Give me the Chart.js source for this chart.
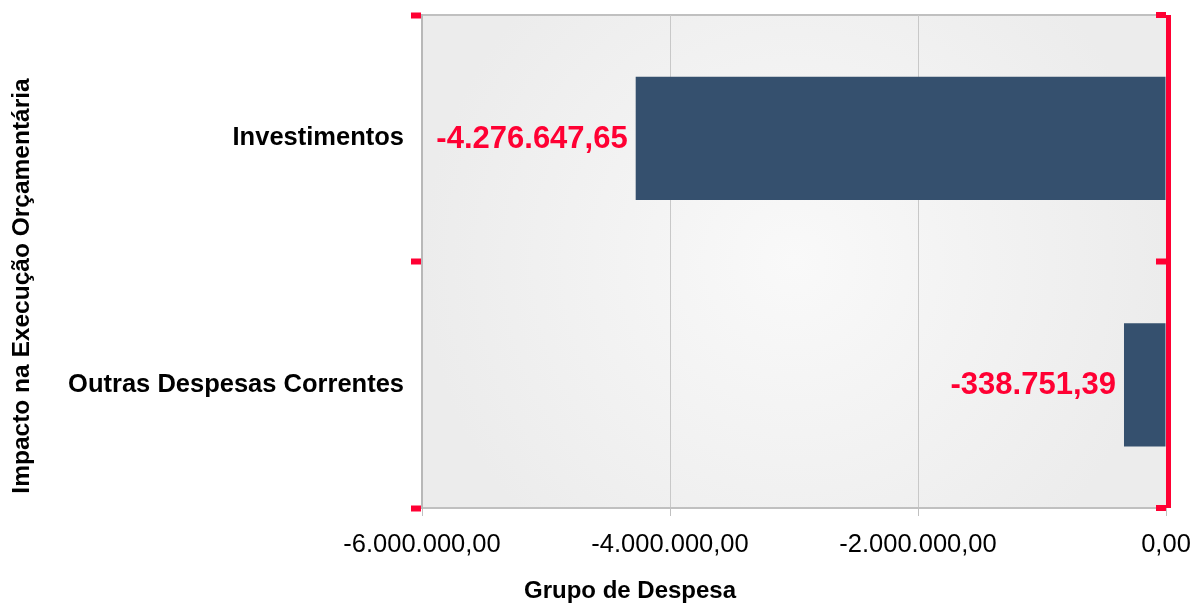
<!DOCTYPE html>
<html>
<head>
<meta charset="utf-8">
<script src="https://cdn.jsdelivr.net/npm/chart.js@4.4.0/dist/chart.umd.min.js"></script>
<style>
    html, body { margin: 0; padding: 0; background: #fff; }
    #wrap { width: 1194px; height: 605px; }
</style>
</head>
<body>
<div id="wrap"><canvas id="chart"></canvas></div>
<script>
const categories = ['Investimentos', 'Outras Despesas Correntes'];
const values = [-4276647.65, -338751.39];
const xTicks = [-6000000, -4000000, -2000000, 0];
const xTitle = 'Grupo de Despesa';
const yTitle = 'Impacto na Execução Orçamentária';

function formatBR(v) {
    let neg = v < 0;
    let parts = Math.abs(v).toFixed(2).split('.');
    let intPart = parts[0].replace(/\B(?=(\d{3})+(?!\d))/g, '.');
    return (neg ? '-' : '') + intPart + ',' + parts[1];
}

const FONT = '"Liberation Sans", Arial, sans-serif';
Chart.defaults.font.family = FONT;
Chart.defaults.color = '#000';

const plotBackground = {
    id: 'plot_background',
    beforeDraw: (chart) => {
        const {ctx, chartArea: a} = chart;
        const cx = (a.left + a.right) / 2, cy = (a.top + a.bottom) / 2;
        const g = ctx.createRadialGradient(cx, cy, 0, cx, cy, (a.right - a.left) / 2);
        g.addColorStop(0, '#f9f9f9');
        g.addColorStop(1, '#ececec');
        ctx.save();
        ctx.fillStyle = g;
        ctx.fillRect(a.left, a.top, a.right - a.left, a.bottom - a.top);
        ctx.strokeStyle = '#c0c0c0';
        ctx.lineWidth = 2;
        ctx.beginPath();
        ctx.moveTo(a.left, a.top);
        ctx.lineTo(a.right, a.top);
        ctx.stroke();
        ctx.restore();
    }
};

const zeroLine = {
    id: 'zero_line',
    afterDatasetsDraw: (chart) => {
        const {ctx, chartArea: a, scales} = chart;
        const x0 = scales.x.getPixelForValue(0);
        ctx.save();
        ctx.fillStyle = '#ff0033';
        ctx.fillRect(x0, a.top, 5, a.bottom - a.top);
        const n = categories.length;
        for (let i = 0; i <= n; i++) {
            const y = a.top + (a.bottom - a.top) * i / n;
            ctx.fillRect(x0 - 10, y - 3, 10, 6);
        }
        ctx.restore();
    }
};

const valueLabels = {
    id: 'value_labels',
    afterDatasetsDraw: (chart) => {
        const {ctx} = chart;
        const meta = chart.getDatasetMeta(0);
        ctx.save();
        ctx.font = 'bold 31px ' + FONT;
        ctx.fillStyle = '#ff0033';
        ctx.textAlign = 'right';
        ctx.textBaseline = 'middle';
        meta.data.forEach((bar, i) => {
            ctx.fillText(formatBR(values[i]), Math.min(bar.x, bar.base) - 8, bar.y + 1);
        });
        ctx.restore();
    }
};

const axisTitles = {
    id: 'axis_titles',
    afterDraw: (chart) => {
        const {ctx} = chart;
        ctx.save();
        ctx.font = 'bold 24px ' + FONT;
        ctx.fillStyle = '#000';
        ctx.textAlign = 'center';
        ctx.textBaseline = 'middle';
        ctx.fillText(xTitle, 630, 591);
        ctx.translate(22, 286);
        ctx.rotate(-Math.PI / 2);
        ctx.font = 'bold 24.5px ' + FONT;
        ctx.fillText(yTitle, 0, 0);
        ctx.restore();
    }
};

new Chart(document.getElementById('chart'), {
    type: 'bar',
    data: {
        labels: categories,
        datasets: [{
            data: values,
            backgroundColor: '#35506e',
            barPercentage: 0.5,
            categoryPercentage: 1.0
        }]
    },
    options: {
        indexAxis: 'y',
        responsive: true,
        maintainAspectRatio: false,
        animation: false,
        layout: {padding: {top: 15, right: 28, left: 0, bottom: 0}},
        plugins: {legend: {display: false}, tooltip: {enabled: false}},
        scales: {
            x: {
                min: -6000000,
                max: 0,
                afterBuildTicks: (scale) => { scale.ticks = xTicks.map(v => ({value: v})); },
                afterFit: (scale) => {
                    scale.height = 97;
                    scale.paddingLeft = 0;
                    scale.paddingRight = 0;
                },
                ticks: {
                    callback: (v) => formatBR(v),
                    font: {size: 25.5},
                    padding: 14,
                    maxRotation: 0
                },
                grid: {color: '#c8c8c8', lineWidth: 1, tickLength: 8, tickColor: '#c0c0c0'},
                border: {color: '#c0c0c0', width: 2}
            },
            y: {
                afterFit: (scale) => {
                    scale.width = 422;
                    scale.paddingTop = 0;
                    scale.paddingBottom = 0;
                },
                ticks: {font: {size: 25.5, weight: 'bold'}, padding: 7},
                grid: {
                    offset: true,
                    drawOnChartArea: false,
                    drawTicks: true,
                    tickLength: 11,
                    tickColor: '#ff0033',
                    tickWidth: 6
                },
                border: {color: '#b8b8b8', width: 2}
            }
        }
    },
    plugins: [plotBackground, zeroLine, valueLabels, axisTitles]
});
</script>
</body>
</html>
